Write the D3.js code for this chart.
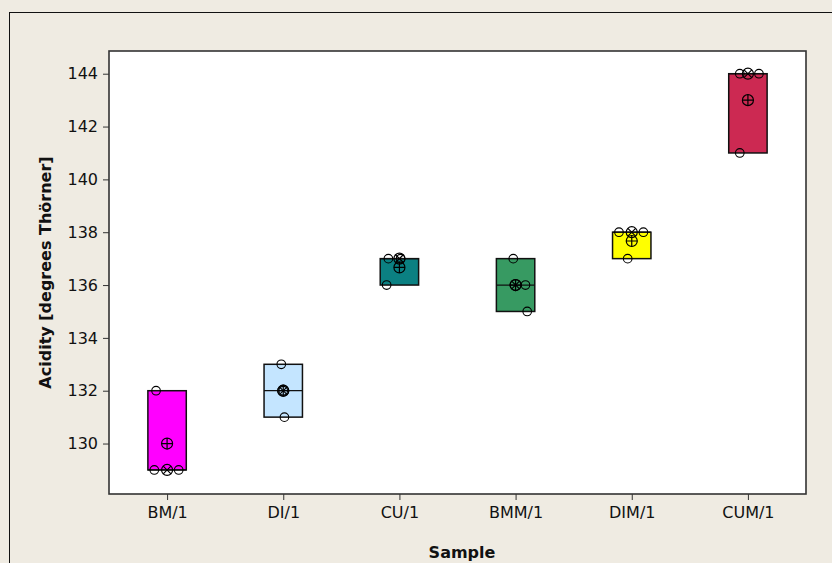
<!DOCTYPE html>
<html>
<head>
<meta charset="utf-8">
<title>Acidity by sample</title>
<script src="https://d3js.org/d3.v7.min.js"></script>
<style>
  body { margin: 0; background: #efebe2; }
  svg { display: block; font-family: "DejaVu Sans", Tahoma, sans-serif; }
</style>
</head>
<body>
<svg id="chart" width="832" height="563"></svg>
<script>
var samples = ["BM/1", "DI/1", "CU/1", "BMM/1", "DIM/1", "CUM/1"]
var values = [
  [132, 129, 129],
  [133, 132, 131],
  [137, 137, 136],
  [137, 136, 135],
  [138, 138, 137],
  [144, 144, 141]
]
var boxColors = ["#ff00ff", "#c4e5ff", "#0b8082", "#379a62", "#ffff00", "#cc2952"]
var yTicks = [130, 132, 134, 136, 138, 140, 142, 144]

// horizontal jitter of the individual points, as a share of one category step
var jitter = [
  [-0.095, -0.11, 0.10],
  [-0.017, 0.0, 0.01],
  [-0.095, 0.01, -0.11],
  [-0.02, 0.085, 0.10],
  [-0.11, 0.10, -0.035],
  [-0.07, 0.095, -0.07]
]

var plot = { left: 109, right: 806, top: 51, bottom: 494 }
var svg = d3.select("#chart")

// outer frame
svg.append("rect").attr("x", 9.5).attr("y", 12.5).attr("width", 900).attr("height", 600)
  .attr("fill", "#efebe2").attr("stroke", "#111").attr("stroke-width", 1)

var x = d3.scalePoint().domain(samples).range([plot.left, plot.right]).padding(0.5)
var y = d3.scaleLinear().domain([128.09, 144.86]).range([plot.bottom, plot.top])
var step = x.step()
var boxW = 38.4

svg.append("rect").attr("x", plot.left).attr("y", plot.top)
  .attr("width", plot.right - plot.left).attr("height", plot.bottom - plot.top)
  .attr("fill", "#fff")

// minitab style quartile: position (n+1)p
function quart(arr, p) {
  var s = arr.slice().sort(d3.ascending)
  var pos = (s.length + 1) * p
  var lo = Math.max(1, Math.min(s.length, Math.floor(pos)))
  var hi = Math.max(1, Math.min(s.length, Math.ceil(pos)))
  return s[lo - 1] + (pos - Math.floor(pos)) * (s[hi - 1] - s[lo - 1])
}

var stats = samples.map(function(name, i) {
  return {
    name: name, i: i,
    q1: quart(values[i], 0.25), q3: quart(values[i], 0.75),
    median: d3.median(values[i]), mean: d3.mean(values[i])
  }
})

var groups = svg.append("g").selectAll("g").data(stats).join("g")

groups.append("rect")
  .attr("x", function(d) { return x(d.name) - boxW / 2 })
  .attr("y", function(d) { return y(d.q3) })
  .attr("width", boxW)
  .attr("height", function(d) { return y(d.q1) - y(d.q3) })
  .attr("fill", function(d) { return boxColors[d.i] })
  .attr("stroke", "#111").attr("stroke-width", 1.5)

groups.append("line")
  .attr("x1", function(d) { return x(d.name) - boxW / 2 })
  .attr("x2", function(d) { return x(d.name) + boxW / 2 })
  .attr("y1", function(d) { return y(d.median) })
  .attr("y2", function(d) { return y(d.median) })
  .attr("stroke", "#111").attr("stroke-width", 1.2)

// individual values
groups.selectAll("circle.pt")
  .data(function(d) { return values[d.i].map(function(v, k) { return { v: v, j: jitter[d.i][k], name: d.name } }) })
  .join("circle").attr("class", "pt")
  .attr("cx", function(p) { return x(p.name) + p.j * step })
  .attr("cy", function(p) { return y(p.v) })
  .attr("r", 4.3)
  .attr("fill", "none").attr("stroke", "#000").attr("stroke-width", 1.1)

// median symbol (circle with x) and mean symbol (circle with +)
var r2 = 5.5
var med = groups.append("g")
  .attr("transform", function(d) { return "translate(" + x(d.name) + "," + y(d.median) + ")" })
med.append("circle").attr("r", r2).attr("fill", "none").attr("stroke", "#000").attr("stroke-width", 1.2)
med.append("path").attr("d", "M-3.9,-3.9L3.9,3.9M-3.9,3.9L3.9,-3.9").attr("stroke", "#000").attr("stroke-width", 1.2)

var mn = groups.append("g")
  .attr("transform", function(d) { return "translate(" + x(d.name) + "," + y(d.mean) + ")" })
mn.append("circle").attr("r", r2).attr("fill", "none").attr("stroke", "#000").attr("stroke-width", 1.2)
mn.append("path").attr("d", "M-5.5,0H5.5M0,-5.5V5.5").attr("stroke", "#000").attr("stroke-width", 1.2)

// plot frame
svg.append("rect").attr("x", plot.left).attr("y", plot.top)
  .attr("width", plot.right - plot.left).attr("height", plot.bottom - plot.top)
  .attr("fill", "none").attr("stroke", "#333").attr("stroke-width", 1.6)

// axes
var yAxis = svg.append("g").attr("transform", "translate(" + plot.left + ",0)")
  .call(d3.axisLeft(y).tickValues(yTicks).tickSize(6).tickPadding(5))
var xAxis = svg.append("g").attr("transform", "translate(0," + plot.bottom + ")")
  .call(d3.axisBottom(x).tickSize(6).tickPadding(7))
;[yAxis, xAxis].forEach(function(a) {
  a.select(".domain").remove()
  a.selectAll(".tick line").attr("stroke", "#333")
  a.selectAll("text").attr("fill", "#111").style("font-size", "16px").style("font-family", "DejaVu Sans, sans-serif")
})

svg.append("text")
  .attr("transform", "translate(51," + (plot.top + plot.bottom) / 2 + ") rotate(-90)")
  .attr("text-anchor", "middle")
  .style("font-size", "16px").style("font-weight", "bold").attr("fill", "#111")
  .text("Acidity [degrees Thörner]")

svg.append("text")
  .attr("x", 462).attr("y", 558)
  .attr("text-anchor", "middle")
  .style("font-size", "16px").style("font-weight", "bold").attr("fill", "#111")
  .text("Sample")
</script>
</body>
</html>
